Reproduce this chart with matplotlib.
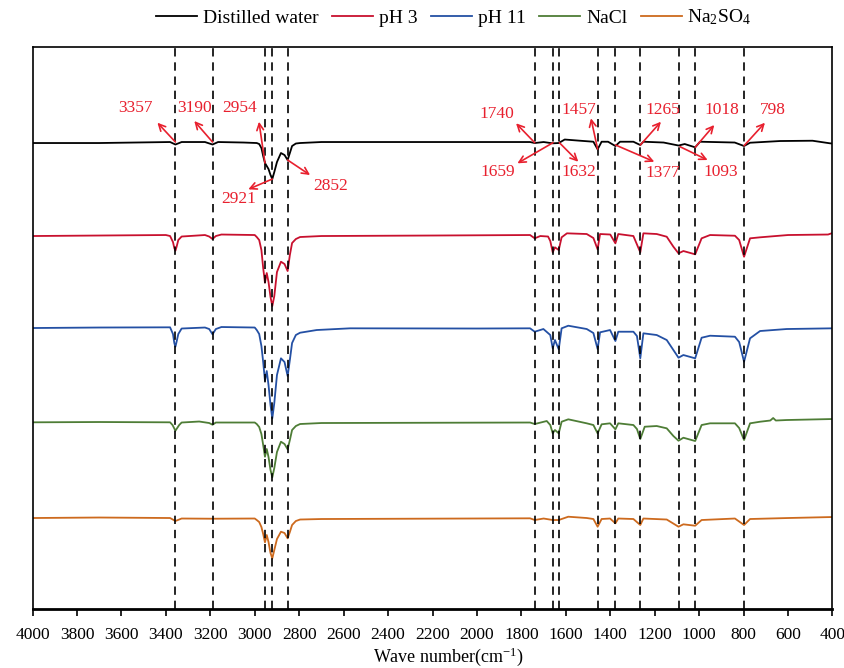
import matplotlib
matplotlib.use("Agg")
import matplotlib.pyplot as plt

plt.rcParams["font.family"] = ["Liberation Serif", "DejaVu Serif"]
plt.rcParams["mathtext.fontset"] = "custom"
plt.rcParams["mathtext.rm"] = "Liberation Serif"
plt.rcParams["mathtext.it"] = "Liberation Serif:italic"

# FTIR spectra, offset vertically (arbitrary transmittance units)
wn_water = [4000, 3700, 3381, 3357, 3329, 3224, 3190, 3165, 3050,
            2991, 2980, 2970, 2962, 2954, 2946, 2938, 2929, 2921, 2912, 2900, 2882, 2866, 2852,
            2842, 2832, 2815, 2796, 2700, 2200, 1761, 1740, 1700, 1659, 1632, 1605, 1536,
            1476, 1457, 1439, 1410, 1377, 1356, 1296, 1265, 1251, 1160, 1093, 1065, 1018, 996,
            840, 798, 771, 636, 490, 411, 400]
t_water = [466, 466, 467, 464.5, 467, 467, 464.5, 467, 466.5,
           466, 465, 461, 453, 446, 443, 440, 434, 430, 437, 447, 456, 454, 449,
           456, 463, 465.5, 466, 467, 467, 467, 466, 467, 465.7, 466, 469.5, 468.3,
           467.3, 459.7, 467.3, 467.3, 463, 467.3, 467.3, 464, 467.3, 466.5, 463.5, 465, 461.7, 467.3,
           466.5, 463, 466.3, 468, 468.3, 465.7, 465.5]

wn_ph3 = [4000, 3700, 3400, 3381, 3368, 3362, 3357, 3352, 3344, 3329, 3224, 3205, 3190, 3175,
          3150, 3000, 2991, 2980, 2970, 2962, 2954, 2946, 2938, 2929, 2921, 2912, 2900, 2882,
          2866, 2852, 2842, 2832, 2815, 2796, 2700, 2200, 1761, 1740, 1715, 1680, 1670, 1659,
          1649, 1632, 1619, 1595, 1506, 1476, 1457, 1446, 1400, 1377, 1364, 1296, 1265, 1251,
          1191, 1146, 1116, 1093, 1071, 1018, 989, 951, 839, 820, 798, 771, 726, 600, 420, 400]
t_ph3 = [373, 373.5, 374, 373, 367, 361, 358.3, 362, 369, 372.5, 374, 372.5, 370, 373,
         374.5, 374, 372, 369, 359, 341, 326.3, 336, 327, 312, 303, 313, 337, 347.3,
         345, 338, 354, 366, 370, 372, 373, 373.5, 374, 370.7, 373, 372.5, 368, 356.7,
         361.7, 359, 371.7, 375.7, 375, 371, 359.7, 375, 374.5, 365.7, 375, 373, 356.7, 375.7,
         375, 372.3, 362.3, 355.7, 358, 354.7, 370.7, 374, 373.3, 369, 352.3, 370.7, 371.7, 374, 374.5, 376]

wn_ph11 = [4000, 3700, 3381, 3368, 3362, 3357, 3352, 3344, 3329, 3224, 3205, 3190, 3175, 3150,
           3000, 2991, 2980, 2970, 2962, 2954, 2946, 2938, 2929, 2921, 2912, 2900, 2882, 2866,
           2852, 2842, 2832, 2815, 2796, 2721, 2571, 2000, 1761, 1740, 1701, 1670, 1659, 1649,
           1632, 1619, 1589, 1506, 1476, 1457, 1446, 1401, 1377, 1364, 1296, 1280, 1265, 1251,
           1191, 1146, 1116, 1093, 1071, 1018, 989, 951, 839, 820, 798, 771, 726, 606, 400]
t_ph11 = [281, 281.5, 281.7, 275, 266, 262.3, 267, 275, 280.5, 281.5, 280, 274.7, 280, 282,
          281.5, 279, 275, 263, 247, 228.3, 238, 224, 204, 190.7, 206, 234, 250.7, 247,
          233, 249, 266, 274, 276.3, 279, 280.7, 280.5, 280.7, 277.3, 280, 274, 260.7, 269,
          259.7, 280.7, 283.3, 280, 276, 260, 276.7, 279, 268, 277.3, 277.3, 273, 250.7, 275.7,
          274, 269, 259, 251.3, 254, 250.7, 271.3, 273.3, 272.3, 267, 247.3, 270.7, 278, 280, 280.7]

wn_nacl = [4000, 3700, 3381, 3370, 3357, 3340, 3329, 3250, 3205, 3190, 3175, 3000,
           2991, 2980, 2970, 2962, 2954, 2946, 2938, 2929, 2921, 2912, 2900, 2882, 2866, 2852,
           2842, 2832, 2815, 2796, 2700, 1761, 1740, 1686, 1670, 1659, 1649, 1632, 1619, 1589,
           1506, 1476, 1457, 1439, 1401, 1377, 1364, 1296, 1280, 1265, 1245, 1191, 1146, 1116,
           1093, 1071, 1018, 989, 951, 839, 820, 798, 771, 726, 680, 667, 655, 606, 400]
t_nacl = [186.7, 187, 186.7, 184, 178.3, 184, 186.5, 187.5, 186, 184.3, 186.5, 186.5,
          185, 182, 175, 164, 152.3, 160, 152, 139, 131.7, 141, 157, 167.3, 165, 159.7,
          169, 179, 183, 185, 186, 186.5, 185, 188, 184, 175.7, 179, 175.7, 187.3, 189.7,
          185.7, 184, 175.7, 184.7, 185.7, 179.7, 185.7, 184, 180, 170, 182.3, 183, 180.7, 173,
          168.3, 171.3, 168, 184, 185.7, 185.7, 181, 169, 185.7, 187.3, 188.5, 191, 188.5, 189, 190]

wn_na2so4 = [4000, 3700, 3381, 3357, 3329, 3190, 3000,
             2991, 2980, 2970, 2962, 2954, 2946, 2938, 2929, 2921, 2912, 2900, 2882, 2866, 2852,
             2842, 2832, 2815, 2796, 2700, 1761, 1740, 1700, 1659, 1632, 1589,
             1506, 1476, 1457, 1439, 1401, 1377, 1364, 1296, 1265, 1251, 1146, 1093, 1071, 1018,
             989, 839, 798, 771, 600, 400]
t_na2so4 = [91, 91.5, 91, 88, 90.5, 90.3, 90.5,
            89, 87, 82, 75, 66.7, 74, 67, 56, 50.7, 59, 70, 77.3, 76, 70.7,
            77, 84, 88, 89.5, 90, 90.7, 89, 90.5, 89, 89, 92.3,
            91, 90, 82.3, 90, 90.5, 85.7, 90.5, 90, 84, 90.5, 89.5, 82.3, 84.7, 83.3,
            89, 90.5, 84, 90, 91, 92]

series = [
    ("Distilled water", wn_water, t_water, "#000000"),
    ("pH 3", wn_ph3, t_ph3, "#C8102E"),
    ("pH 11", wn_ph11, t_ph11, "#2450A4"),
    ("NaCl", wn_nacl, t_nacl, "#4E7D36"),
    ("Na$_2$SO$_4$", wn_na2so4, t_na2so4, "#CD6A1E"),
]

# marked absorption bands
peaks = [3357, 3190, 2954, 2921, 2852, 1740, 1659, 1632, 1457, 1377, 1265, 1093, 1018, 798]

# peak labels on the top spectrum: (label, arrow start, arrow end, text position)
labels = [
    ("3357", (3357, 467), (3438, 486.3), (3539, 501)),
    ("3190", (3190, 467), (3272, 488), (3273, 501)),
    ("2954", (2954, 446), (2981, 487.3), (3068, 501)),
    ("2921", (2921, 430), (3029, 419.7), (3072, 409.7)),
    ("2852", (2852, 449), (2751, 434), (2658, 423)),
    ("1740", (1740, 466.3), (1824, 485.7), (1911, 495)),
    ("1659", (1658, 466.3), (1818, 445.7), (1907, 437.3)),
    ("1632", (1629, 466.3), (1544, 447.3), (1540, 437.3)),
    ("1457", (1457, 460), (1487, 490.7), (1541, 499)),
    ("1377", (1376, 464), (1202, 447.3), (1165, 436.3)),
    ("1265", (1265, 464), (1172, 487.3), (1165, 499)),
    ("1093", (1086, 462.3), (962, 449), (902, 437.3)),
    ("1018", (1018, 461.7), (932, 484), (899, 499)),
    ("798", (798, 463.3), (704, 486.3), (667, 499)),
]

fig = plt.figure(figsize=(8.45, 6.68), dpi=100)
ax = fig.add_axes([0.0385, 0.0883, 0.9467, 0.8413])

for name, wn, t, color in series:
    ax.plot(wn, t, color=color, lw=1.3, label=name, zorder=2)

for p in peaks:
    ax.axvline(p, color="black", lw=1.2, ls=(0, (5, 3.5)), zorder=3)

red = "#E8202E"
for text, start, end, pos in labels:
    ax.annotate("", xy=end, xytext=start,
                arrowprops=dict(arrowstyle="->", color=red, lw=1.2,
                                shrinkA=0, shrinkB=0, mutation_scale=12),
                zorder=4)
    ax.text(pos[0], pos[1], text, color=red, fontsize=12.5, ha="center", va="center", zorder=4)

ax.set_xlim(4000, 400)
ax.set_ylim(0, 562)
ax.set_xticks(range(4000, 399, -200))
ax.set_yticks([])
ax.tick_params(axis="x", direction="out", length=5, width=1.2, labelsize=12.5, pad=8)
ax.set_xlabel("Wave number(cm$^{-1}$)", fontsize=13)
ax.xaxis.set_label_coords(0.52, -0.065)

for side in ["left", "right", "top"]:
    ax.spines[side].set_linewidth(1.2)
ax.spines["bottom"].set_linewidth(2)

fig.legend(loc="center", bbox_to_anchor=(0.537, 0.974), ncol=5, frameon=False,
           fontsize=14, handlelength=2.1, handletextpad=0.3, columnspacing=0.7)

plt.savefig("out.png", dpi=100)
